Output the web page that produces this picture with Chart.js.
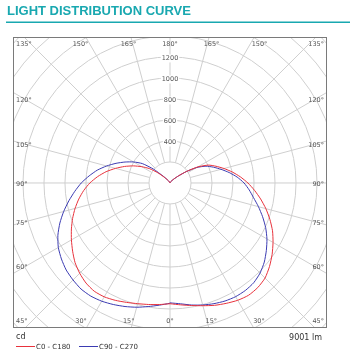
<!DOCTYPE html>
<html>
<head>
<meta charset="utf-8">
<script src="https://cdn.jsdelivr.net/npm/chart.js@4/dist/chart.umd.min.js"></script>
<style>
  html,body{margin:0;padding:0;background:#fff;}
  canvas{display:block;}
</style>
</head>
<body>
<canvas id="ldc" width="351" height="358"></canvas>
<script>
// gamma angles (deg from nadir), intensities in cd per half plane
const gammaAngles=[0,5,10,15,20,25,30,35,40,45,50,55,60,65,70,75,80,85,90,95,100,105,110,115,120,125,130,135,140,145,150,155,160,165,170,175,180];
const c0  =[1150,1165,1185,1210,1240,1265,1290,1305,1300,1280,1237,1187,1133,1077,1012,945,876,808,742,672,602,532,466,403,305,190,105,58,34,22,15,11,8,6,4,2,0];
const c180=[1150,1162,1175,1190,1210,1233,1252,1258,1244,1216,1180,1132,1084,1036,987,936,882,825,763,692,618,537,460,385,310,238,150,78,42,25,15,11,8,6,4,2,0];
const c90 =[1142,1155,1180,1203,1223,1240,1250,1250,1240,1213,1172,1120,1066,1005,938,872,808,757,705,642,572,503,440,378,295,188,102,56,32,22,15,11,8,6,4,2,0];
const c270=[1145,1168,1195,1225,1252,1277,1300,1315,1318,1306,1290,1262,1228,1178,1116,1048,978,910,845,773,703,625,547,472,400,322,205,92,45,25,15,11,8,6,4,2,0];
const ringValues=[200,400,600,800,1000,1200,1400,1600,1800,2000,2200,2400];
const ringLabels=[400,600,800,1000,1200];
const angleTicks=[0,15,30,45,60,75,90,105,120,135,150,165,180];
const seriesNames=['C0 - C180','C90 - C270'];
const fluxText='9001 lm';

const RED='#e8323c', BLUE='#3b3bb2', TEAL='#19a8b0', GRID='#cfcfcf';

// right half plane goes to +x, left half plane to -x; 0 deg points down
function polar(left,right){
  const pts=[];
  for(let i=gammaAngles.length-1;i>=0;i--){
    const a=gammaAngles[i]*Math.PI/180;
    pts.push({x:-left[i]*Math.sin(a),y:-left[i]*Math.cos(a)});
  }
  for(let i=0;i<gammaAngles.length;i++){
    const a=gammaAngles[i]*Math.PI/180;
    pts.push({x:right[i]*Math.sin(a),y:-right[i]*Math.cos(a)});
  }
  return pts;
}

const polarGrid={
  id:'polarGrid',
  beforeDatasetsDraw(chart){
    const {ctx,chartArea:ca,scales:{x,y}}=chart;
    const cx=x.getPixelForValue(0), cy=y.getPixelForValue(0);
    const k=x.getPixelForValue(1000)-cx;
    ctx.save();
    ctx.beginPath(); ctx.rect(ca.left,ca.top,ca.width,ca.height); ctx.clip();
    ctx.strokeStyle=GRID; ctx.lineWidth=1;
    ringValues.forEach(v=>{
      ctx.beginPath(); ctx.arc(cx,cy,v*k/1000,0,Math.PI*2); ctx.stroke();
    });
    const r0=200*k/1000, r1=3000*k/1000;
    for(let a=0;a<360;a+=15){
      const t=a*Math.PI/180, ux=Math.sin(t), uy=Math.cos(t);
      ctx.beginPath();
      ctx.moveTo(cx+ux*r0,cy+uy*r0); ctx.lineTo(cx+ux*r1,cy+uy*r1); ctx.stroke();
    }
    // cd labels on the 180 line
    ctx.font='6.5px "DejaVu Sans"'; ctx.textAlign='center'; ctx.textBaseline='middle';
    ringLabels.forEach(v=>{
      const py=cy-v*k/1000+1.5;
      const w=ctx.measureText(String(v)).width;
      ctx.fillStyle='#fff'; ctx.fillRect(cx-w/2-1,py-4,w+2,8);
      ctx.fillStyle='#555'; ctx.fillText(String(v),cx,py);
    });
    // angle labels along the frame
    angleTicks.forEach(g=>{
      [-1,1].forEach(side=>{
        if((g===0||g===180)&&side<0) return;
        const t=g*Math.PI/180;
        const ux=side*Math.sin(t), uy=Math.cos(t);
        let px,py,al='center';
        const txt=g+'°';
        if(g===45||g===135){
          px=side<0?ca.left+3:ca.right-3; al=side<0?'left':'right';
          py=g===45?ca.bottom-7:ca.top+7;
        }else if(g<45||g>135){
          py=uy>0?ca.bottom-7:ca.top+7;
          const d=(uy>0?ca.bottom-cy:cy-ca.top);
          px=cx+side*(d*Math.abs(ux/uy)+Math.abs(ux/uy)*9);
        }else{
          px=side<0?ca.left+3:ca.right-3; al=side<0?'left':'right';
          py=cy+145*uy/Math.abs(ux)+1;
        }
        ctx.textAlign=al; ctx.fillStyle='#555';
        ctx.fillText(txt,px,py);
      });
    });
    ctx.restore();
  },
  afterDraw(chart){
    const {ctx,chartArea:ca}=chart;
    ctx.save();
    ctx.strokeStyle='#7a7a7a'; ctx.lineWidth=1;
    ctx.strokeRect(ca.left+0.5,ca.top+0.5,ca.width-1,ca.height-1);
    // heading
    ctx.fillStyle=TEAL; ctx.font='bold 13px "Liberation Sans"';
    ctx.textAlign='left'; ctx.textBaseline='middle';
    ctx.fillText('LIGHT DISTRIBUTION CURVE',7,11);
    ctx.fillRect(6,21.5,344,1.5);
    // footer
    ctx.fillStyle='#333'; ctx.font='8px "DejaVu Sans"';
    ctx.fillText('cd',16,337);
    ctx.textAlign='right'; ctx.fillText(fluxText,322,338);
    ctx.textAlign='left'; ctx.font='7px "DejaVu Sans"';
    [[RED,16],[BLUE,79]].forEach(([c,lx],i)=>{
      ctx.strokeStyle=c; ctx.beginPath(); ctx.moveTo(lx,346.5); ctx.lineTo(lx+19,346.5); ctx.stroke();
      ctx.fillStyle='#333'; ctx.fillText(seriesNames[i],lx+20,347);
    });
    ctx.restore();
  }
};

new Chart(document.getElementById('ldc'),{
  type:'scatter',
  data:{datasets:[
    {label:seriesNames[0],data:polar(c180,c0),showLine:true,borderColor:RED,borderWidth:1,pointRadius:0,tension:0.2},
    {label:seriesNames[1],data:polar(c270,c90),showLine:true,borderColor:BLUE,borderWidth:1,pointRadius:0,tension:0.2}
  ]},
  options:{
    responsive:false,animation:false,devicePixelRatio:1,
    layout:{padding:{left:13,top:37,right:24,bottom:30}},
    plugins:{legend:{display:false},tooltip:{enabled:false}},
    scales:{
      x:{type:'linear',min:-1495,max:1495,display:false},
      y:{type:'linear',min:-1381,max:1390,display:false}
    }
  },
  plugins:[polarGrid]
});
</script>
</body>
</html>
